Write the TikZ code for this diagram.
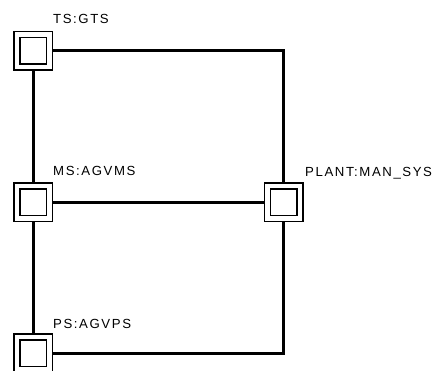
\documentclass[tikz,border=0pt]{standalone}
\usepackage{fontspec}
\setmainfont{Liberation Sans}[LetterSpace=12]
\begin{document}
\begin{tikzpicture}[x=1pt,y=-1pt,
  port/.style={draw=black, line width=1.5pt, double=white, double distance=4.5pt,
    fill=white, minimum size=32.5pt, inner sep=0pt, outer sep=3.75pt, shape=rectangle},
  link/.style={line width=3pt},
  lab/.style={anchor=base west, inner sep=0pt, font=\fontsize{13.2}{15}\selectfont}]
\useasboundingbox (0,0) rectangle (438,370);
\node[port] (ts) at (33,50.5) {};
\node[port] (ms) at (33,202) {};
\node[port] (plant) at (283.5,202) {};
\node[port] (ps) at (33,353) {};
\draw[link] (ts.east) -| (plant.north);
\draw[link] (ts.south) -- (ms.north);
\draw[link] (ms.east) -- (plant.west);
\draw[link] (ms.south) -- (ps.north);
\draw[link] (ps.east) -| (plant.south);
\node[lab] (tsl) at (53,23) {TS:GTS};
\node[lab] (msl) at (53,175) {MS:AGVMS};
\node[lab] (plantl) at (305,176) {PLANT:MAN\_SYS};
\node[lab] (psl) at (53,328) {PS:AGVPS};
\end{tikzpicture}
\end{document}
